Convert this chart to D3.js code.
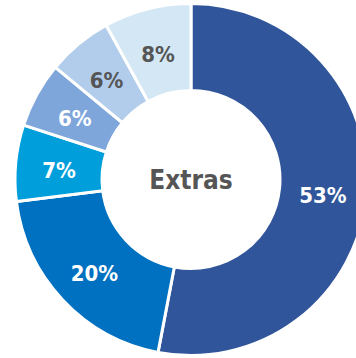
<!DOCTYPE html>
<html>
<head>
<meta charset="utf-8">
<script src="https://cdn.jsdelivr.net/npm/d3@7"></script>
<style>
  body { margin: 0; background: #fff; }
  svg { display: block; }
</style>
</head>
<body>
<svg width="356" height="358"></svg>
<script>
// slices, clockwise from 12 o'clock
const categories = ["a", "b", "c", "d", "e", "f"]
const values = [53, 20, 7, 6, 6, 8]
const labels = ["53%", "20%", "7%", "6%", "6%", "8%"]
const centerTitle = "Extras"

const colors = ["#31559a", "#0070c0", "#009edb", "#7ea6da", "#b2cdeb", "#d4e7f4"]
const labelColors = ["#fff", "#fff", "#fff", "#fff", "#555", "#555"]

const data = categories.map((c, i) => ({ cat: c, value: values[i], label: labels[i] }))

const svg = d3.select("svg")
const cx = 191, cy = 179.5
const outerR = 176, innerR = 89

const g = svg.append("g").attr("transform", `translate(${cx},${cy})`)

const pie = d3.pie().value((d) => d.value).sort(null)
const arc = d3.arc().innerRadius(innerR).outerRadius(outerR)
const arcs = pie(data)

g.selectAll(".slice")
  .data(arcs)
  .enter()
  .append("path")
  .attr("class", "slice")
  .attr("d", arc)
  .attr("fill", (d, i) => colors[i])
  .attr("stroke", "#fff")
  .attr("stroke-width", 3)

g.selectAll(".lbl")
  .data(arcs)
  .enter()
  .append("text")
  .attr("class", "lbl")
  .attr("transform", (d) => `translate(${arc.centroid(d)})`)
  .attr("text-anchor", "middle")
  .attr("dy", "0.48em")
  .attr("font-family", "'DejaVu Sans Condensed', 'DejaVu Sans', sans-serif")
  .attr("font-weight", "bold")
  .attr("font-size", 22)
  .attr("fill", (d, i) => labelColors[i])
  .text((d) => d.data.label)

g.append("text")
  .attr("text-anchor", "middle")
  .attr("dy", "0.36em")
  .attr("font-family", "'DejaVu Sans Condensed', 'DejaVu Sans', sans-serif")
  .attr("font-weight", "bold")
  .attr("font-size", 26)
  .attr("fill", "#555")
  .text(centerTitle)
</script>
</body>
</html>
